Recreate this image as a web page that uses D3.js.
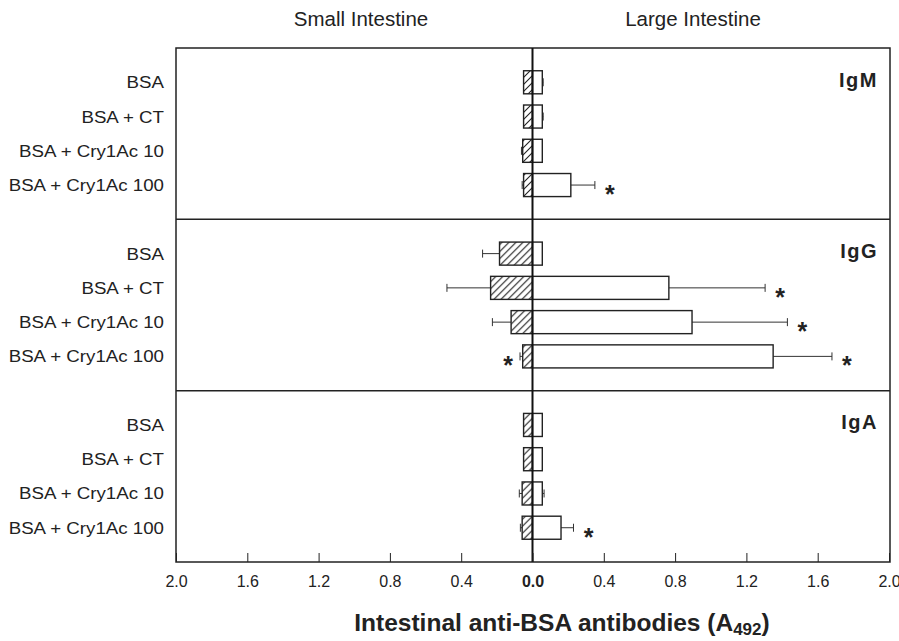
<!DOCTYPE html>
<html>
<head>
<meta charset="utf-8">
<script src="https://cdn.jsdelivr.net/npm/d3@7/dist/d3.min.js"></script>
<style>
  body { margin: 0; background: #fff; }
  text { font-family: "Liberation Sans", Arial, sans-serif; fill: #222; }
</style>
</head>
<body>
<div id="chart"></div>
<script>
const categories = ['BSA', 'BSA + CT', 'BSA + Cry1Ac 10', 'BSA + Cry1Ac 100'];
const isotypes = ['IgM', 'IgG', 'IgA'];

// small intestine (drawn to the left), per isotype, per group
const smallMean = [
  [0.05, 0.05, 0.055, 0.05],
  [0.185, 0.235, 0.12, 0.055],
  [0.05, 0.05, 0.058, 0.058]
];
const smallSd = [
  [0.0, 0.0, 0.007, 0.008],
  [0.095, 0.245, 0.105, 0.015],
  [0.0, 0.0, 0.016, 0.01]
];
// large intestine (drawn to the right)
const largeMean = [
  [0.055, 0.055, 0.055, 0.215],
  [0.055, 0.765, 0.895, 1.35],
  [0.055, 0.055, 0.055, 0.16]
];
const largeSd = [
  [0.005, 0.005, 0.0, 0.135],
  [0.0, 0.54, 0.535, 0.33],
  [0.0, 0.0, 0.01, 0.07]
];
// significance marks
const smallSig = [[0, 0, 0, 0], [0, 0, 0, 1], [0, 0, 0, 0]];
const largeSig = [[0, 0, 0, 1], [0, 1, 1, 1], [0, 0, 0, 1]];

const tickValues = [-2, -1.6, -1.2, -0.8, -0.4, 0, 0.4, 0.8, 1.2, 1.6, 2];

const width = 899, height = 641;
const plotLeft = 176, plotRight = 890, plotTop = 48, plotBottom = 562;

const svg = d3.select('#chart').append('svg')
  .attr('width', width)
  .attr('height', height);

const defs = svg.append('defs');
const pat = defs.append('pattern')
  .attr('id', 'hatch')
  .attr('patternUnits', 'userSpaceOnUse')
  .attr('width', 7)
  .attr('height', 7);
pat.append('rect').attr('width', 7).attr('height', 7).attr('fill', '#fff');
pat.append('path')
  .attr('d', 'M-1,1 l2,-2 M0,7 l7,-7 M6,8 l2,-2')
  .attr('stroke', '#222')
  .attr('stroke-width', 1.1);

// x: negative side is small intestine
let x = d3.scaleLinear().domain([-2, 2]).range([plotLeft, plotRight - 1]);
let panelY = d3.scaleBand().domain(isotypes).range([plotTop, plotBottom]);
let rowY = d3.scaleBand().domain(categories)
  .range([0, panelY.bandwidth()])
  .paddingInner(0.327)
  .paddingOuter(0.664);

let barH = rowY.bandwidth();

// headers
svg.append('text').attr('x', 361).attr('y', 26)
  .attr('text-anchor', 'middle').style('font-size', '20.5px')
  .text('Small Intestine');
svg.append('text').attr('x', 693).attr('y', 26)
  .attr('text-anchor', 'middle').style('font-size', '20.5px')
  .text('Large Intestine');

// panels
isotypes.forEach(function(iso, p) {
  let py = panelY(iso);
  let g = svg.append('g').attr('class', 'panel')
    .attr('transform', 'translate(0,' + py + ')');

  // row labels
  g.selectAll('.lab')
    .data(categories)
    .enter().append('text')
    .attr('class', 'lab')
    .attr('transform', function(d) {
      return 'translate(164,' + (rowY(d) + barH / 2 + 6) + ') scale(1.1,1)';
    })
    .attr('text-anchor', 'end')
    .style('font-size', '17px')
    .text(function(d) { return d; });

  let rows = categories.map(function(c, i) {
    return {
      cat: c,
      sm: smallMean[p][i], ssd: smallSd[p][i],
      lm: largeMean[p][i], lsd: largeSd[p][i],
      ssig: smallSig[p][i], lsig: largeSig[p][i]
    };
  });

  // error bars (behind)
  rows.forEach(function(d) {
    let cy = rowY(d.cat) + barH / 2;
    if (d.ssd > 0) {
      g.append('line')
        .attr('x1', x(-d.sm)).attr('x2', x(-(d.sm + d.ssd)))
        .attr('y1', cy).attr('y2', cy)
        .attr('stroke', '#333').attr('stroke-width', 1);
      g.append('line')
        .attr('x1', x(-(d.sm + d.ssd))).attr('x2', x(-(d.sm + d.ssd)))
        .attr('y1', cy - 4).attr('y2', cy + 4)
        .attr('stroke', '#333').attr('stroke-width', 1);
    }
    if (d.lsd > 0) {
      g.append('line')
        .attr('x1', x(d.lm)).attr('x2', x(d.lm + d.lsd))
        .attr('y1', cy).attr('y2', cy)
        .attr('stroke', '#333').attr('stroke-width', 1);
      g.append('line')
        .attr('x1', x(d.lm + d.lsd)).attr('x2', x(d.lm + d.lsd))
        .attr('y1', cy - 4).attr('y2', cy + 4)
        .attr('stroke', '#333').attr('stroke-width', 1);
    }
  });

  // hatched bars: small intestine
  g.selectAll('.sbar')
    .data(rows)
    .enter().append('rect')
    .attr('class', 'sbar')
    .attr('x', function(d) { return x(-d.sm); })
    .attr('y', function(d) { return rowY(d.cat); })
    .attr('width', function(d) { return x(0) - x(-d.sm); })
    .attr('height', barH)
    .attr('fill', 'url(#hatch)')
    .attr('stroke', '#222')
    .attr('stroke-width', 1.4);

  // open bars: large intestine
  g.selectAll('.lbar')
    .data(rows)
    .enter().append('rect')
    .attr('class', 'lbar')
    .attr('x', x(0))
    .attr('y', function(d) { return rowY(d.cat); })
    .attr('width', function(d) { return x(d.lm) - x(0); })
    .attr('height', barH)
    .attr('fill', '#fff')
    .attr('stroke', '#222')
    .attr('stroke-width', 1.4);

  // stars
  rows.forEach(function(d) {
    let cy = rowY(d.cat) + barH / 2;
    if (d.lsig) {
      g.append('text')
        .attr('x', x(d.lm + d.lsd) + 15)
        .attr('y', cy + 18)
        .attr('text-anchor', 'middle')
        .style('font-size', '25px').style('font-weight', 'bold')
        .text('*');
    }
    if (d.ssig) {
      g.append('text')
        .attr('x', x(-(d.sm + d.ssd)) - 12)
        .attr('y', cy + 18)
        .attr('text-anchor', 'middle')
        .style('font-size', '25px').style('font-weight', 'bold')
        .text('*');
    }
  });

  // isotype label
  g.append('text')
    .attr('x', 878).attr('y', 38.5)
    .attr('text-anchor', 'end')
    .style('font-size', '20px').style('font-weight', 'bold')
    .style('letter-spacing', '1.5px')
    .text(iso);
});

// frame and dividers
svg.append('rect')
  .attr('x', plotLeft).attr('y', plotTop)
  .attr('width', plotRight - plotLeft).attr('height', plotBottom - plotTop)
  .attr('fill', 'none').attr('stroke', '#222').attr('stroke-width', 1.5);

isotypes.slice(1).forEach(function(iso) {
  svg.append('line')
    .attr('x1', plotLeft).attr('x2', plotRight)
    .attr('y1', panelY(iso)).attr('y2', panelY(iso))
    .attr('stroke', '#222').attr('stroke-width', 1.5);
});

svg.append('line')
  .attr('x1', x(0)).attr('x2', x(0))
  .attr('y1', plotTop).attr('y2', plotBottom)
  .attr('stroke', '#111').attr('stroke-width', 2);

// x axis (ticks pointing inward)
let xAxis = d3.axisBottom(x)
  .tickValues(tickValues)
  .tickSize(-9)
  .tickPadding(16)
  .tickFormat(function(d) { return Math.abs(d).toFixed(1); });

let axisG = svg.append('g')
  .attr('class', 'x axis')
  .attr('transform', 'translate(0,' + plotBottom + ')')
  .call(xAxis);

axisG.select('.domain').remove();
axisG.selectAll('.tick line').attr('stroke', '#222').attr('stroke-width', 1);
axisG.selectAll('.tick text')
  .attr('fill', '#222')
  .attr('y', 25)
  .attr('dy', null)
  .style('font-size', '16px')
  .style('font-family', '"Liberation Sans", Arial, sans-serif')
  .style('font-weight', function(d) { return d === 0 ? 'bold' : 'normal'; });

// axis title
let title = svg.append('text')
  .attr('x', 562).attr('y', 631)
  .attr('text-anchor', 'middle')
  .style('font-size', '24.5px').style('font-weight', 'bold');
title.append('tspan').text('Intestinal anti-BSA antibodies (A');
title.append('tspan').attr('dy', 4).style('font-size', '17px').text('492');
title.append('tspan').attr('dy', -4).text(')');
</script>
</body>
</html>
